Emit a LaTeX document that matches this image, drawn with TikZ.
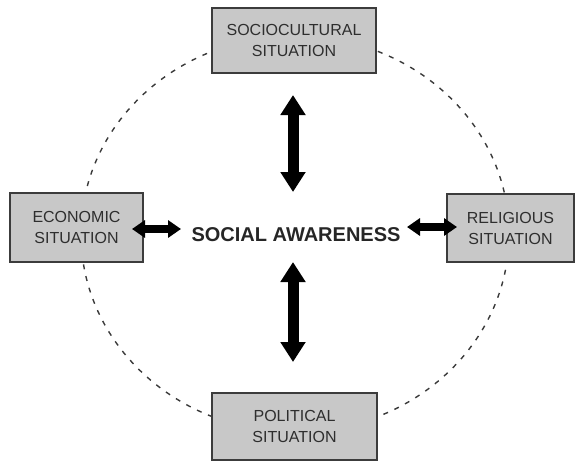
\documentclass[tikz,border=0pt]{standalone}
\usepackage{fontspec}
\setmainfont{Liberation Sans}
\usetikzlibrary{arrows.meta}
\definecolor{boxfill}{HTML}{C8C8C8}
\definecolor{boxline}{HTML}{3C3C3C}
\definecolor{txt}{HTML}{2E2E2E}
\definecolor{ring}{HTML}{3A3A3A}
\begin{document}
\begin{tikzpicture}[x=1pt,y=-1pt,
  sitbox/.style={draw=boxline,line width=1.6pt,fill=boxfill,inner sep=0pt,
    align=center,text=txt,font=\fontsize{16}{21}\selectfont},
  bigarrow/.style={line width=11pt,{Triangle[length=20pt,width=24pt]}-{Triangle[length=20pt,width=24pt]}},
  smallarrow/.style={line width=8pt,{Triangle[length=13pt,width=17pt]}-{Triangle[length=13pt,width=17pt]}},
  ringline/.style={draw=ring,line width=1.4pt,dash pattern=on 5pt off 7pt}
]
\useasboundingbox (0,0) rectangle (575,461);
% dashed ring behind the boxes
\draw[ringline] (295,234) ellipse [x radius=214, y radius=198];
% boxes
\node[sitbox,minimum width=164pt,minimum height=65pt] (socio) at (294,40.5) {SOCIOCULTURAL\\SITUATION};
\node[sitbox,minimum width=133pt,minimum height=69pt] (econ) at (76.5,227.5) {ECONOMIC\\SITUATION};
\node[sitbox,minimum width=127pt,minimum height=68pt] (relig) at (510.5,228) {RELIGIOUS\\SITUATION};
\node[sitbox,minimum width=165pt,minimum height=67pt] (polit) at (294.5,426.5) {POLITICAL\\SITUATION};
% centre label
\node[font=\bfseries\fontsize{20}{24}\selectfont,text=black!85,inner sep=0pt] (aware) at (296,234.5) {SOCIAL AWARENESS};
% arrow end points
\coordinate (t1) at (293,95);
\coordinate (t2) at (293,192);
\coordinate (b1) at (293,262);
\coordinate (b2) at (293,362);
\coordinate (l1) at (132,229);
\coordinate (l2) at (181,229);
\coordinate (r1) at (407,227);
\coordinate (r2) at (457,227);
\draw[bigarrow] (t1) -- (t2);
\draw[bigarrow] (b1) -- (b2);
\draw[smallarrow] (l1) -- (l2);
\draw[smallarrow] (r1) -- (r2);
\end{tikzpicture}
\end{document}
